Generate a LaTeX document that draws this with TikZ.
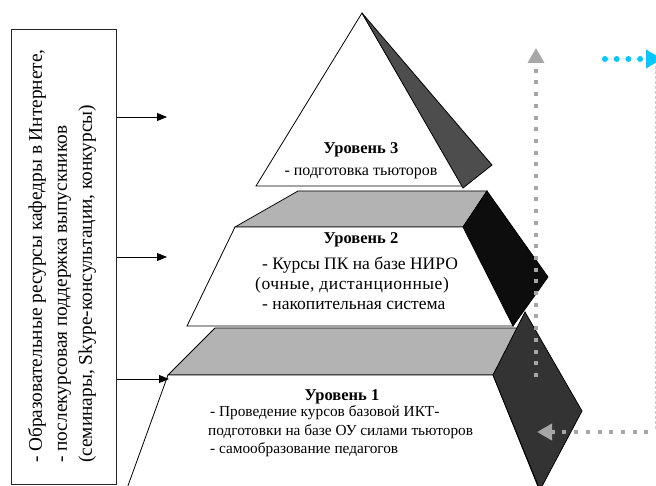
\documentclass[tikz,border=0pt]{standalone}
\usepackage{fontspec}
\setmainfont{Liberation Serif}
\usetikzlibrary{arrows.meta}
\definecolor{facegray}{HTML}{B3B3B3}
\definecolor{sideblack}{HTML}{0D0D0D}
\definecolor{sidedark}{HTML}{333333}
\definecolor{sidethree}{HTML}{4D4D4D}
\definecolor{dotgray}{HTML}{A6A6A6}
\definecolor{cyanblue}{HTML}{00C8FF}
\begin{document}
\begin{tikzpicture}[x=1pt,y=-1pt,line join=miter,
  edge/.style={draw=black,line width=0.8pt},
  arr/.style={line width=0.8pt,-{Triangle[length=10pt,width=8pt]}},
  lvltitle/.style={font=\fontsize{16.5}{19}\selectfont\bfseries,inner sep=0pt},
  lvltext/.style={font=\fontsize{15.3}{18}\selectfont,inner sep=0pt,anchor=west},
  lvltwo/.style={font=\fontsize{17.5}{21}\selectfont,inner sep=0pt,anchor=west},
  graydot/.style={draw=dotgray,line width=4pt,dash pattern=on 4pt off 7.7pt,-{Triangle[length=15pt,width=16pt]}},
  bluedot/.style={draw=cyanblue,fill=cyanblue,line width=6pt,line cap=round,dash pattern=on 0pt off 11.7pt,-{Triangle[length=16pt,width=18pt]}}
]
\useasboundingbox (0,0) rectangle (656,486);
\clip (0,0) rectangle (656,486);

% level 2
\filldraw[edge,fill=facegray] (298,191) -- (487,191) -- (463,227) -- (235,227) -- cycle;
\filldraw[edge,fill=sideblack] (487,191) -- (548,277) -- (513,326) -- (463,227) -- cycle;
\filldraw[edge,fill=white] (235,227) -- (463,227) -- (513,326) -- (187,326) -- cycle;

% level 1
\filldraw[edge,fill=facegray] (215,328) -- (522,328) -- (493,375) -- (168,375) -- cycle;
\filldraw[edge,fill=white] (168,375) -- (493,375) -- (541,494) -- (125,494) -- cycle;
\filldraw[edge,fill=sidedark] (525,312) -- (582,411) -- (540,490) -- (493,375) -- cycle;

% level 3
\filldraw[edge,fill=white] (362,13) -- (463,186) -- (256,186) -- cycle;
\filldraw[edge,fill=sidethree] (362,13) -- (492,165) -- (463,188) -- cycle;

% texts
\node[lvltitle] (t3) at (361,150) {Уровень 3};
\node[lvltext,font=\fontsize{16}{19}\selectfont,anchor=center] (d3) at (361,173) {- подготовка тьюторов};
\node[lvltitle] (t2) at (361,240) {Уровень 2};
\node[lvltwo] (d2a) at (262,265) {- Курсы ПК на базе НИРО};
\node[lvltwo] (d2b) at (255,285) {\addfontfeature{LetterSpace=3}(очные, дистанционные)};
\node[lvltwo] (d2c) at (262,305) {- накопительная система};
\node[lvltitle] (t1) at (342,397) {Уровень 1};
\node[lvltext] (d1a) at (210,413) {- Проведение курсов базовой ИКТ-};
\node[lvltext] (d1b) at (208,432) {подготовки на базе ОУ силами тьюторов};
\node[lvltext] (d1c) at (210,450) {- самообразование педагогов};

% left box
\node[draw=black!85,line width=0.8pt,minimum width=105pt,minimum height=455pt,inner sep=0pt,anchor=north west] (box) at (11,29) {};
\node[rotate=90,align=left,font=\fontsize{19.3}{25}\selectfont,inner sep=0pt,anchor=west] (boxtext) at (62,463)
  {- Образовательные ресурсы кафедры в Интернете,\\- послекурсовая поддержка выпускников\\(семинары, Skype-консультации, конкурсы)};

\coordinate (p3) at (167,117);
\coordinate (p2) at (167,257);
\coordinate (p1) at (169,379);
\draw[arr] (box.east |- p3) -- (p3);
\draw[arr] (box.east |- p2) -- (p2);
\draw[arr] (box.east |- p1) -- (p1);

% dotted arrows
\coordinate (fs) at (655,66);
\coordinate (fe) at (655,430);
\draw[draw=black!20,line width=0.6pt,dash pattern=on 3pt off 2pt] (fs) -- (fe);
\coordinate (vs) at (536,377);
\coordinate (ve) at (536,48);
\draw[graydot] (vs) -- (ve);
\coordinate (hs) at (660,432);
\coordinate (he) at (537,432);
\draw[graydot] (hs) -- (he);
\coordinate (bs) at (605,59);
\coordinate (be) at (662,59);
\draw[bluedot] (bs) -- (be);
\end{tikzpicture}
\end{document}
